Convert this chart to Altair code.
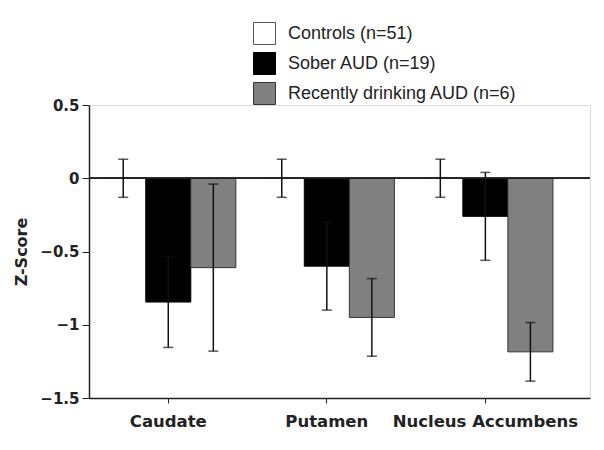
import altair as alt
import pandas as pd

regions = ["Caudate", "Putamen", "Nucleus Accumbens"]
groups = ["Controls (n=51)", "Sober AUD (n=19)", "Recently drinking AUD (n=6)"]
means = {
    "Controls (n=51)": [0.0, 0.0, 0.0],
    "Sober AUD (n=19)": [-0.845, -0.60, -0.26],
    "Recently drinking AUD (n=6)": [-0.61, -0.95, -1.185],
}
errors = {
    "Controls (n=51)": [0.13, 0.13, 0.13],
    "Sober AUD (n=19)": [0.31, 0.30, 0.30],
    "Recently drinking AUD (n=6)": [0.57, 0.265, 0.20],
}
fills = ["#ffffff", "#000000", "#808080"]
strokes = ["#555555", "#000000", "#333333"]

rows = []
for g in groups:
    for i, r in enumerate(regions):
        m = means[g][i]
        e = errors[g][i]
        rows.append({"region": r, "group": g, "mean": m, "lo": m - e, "hi": m + e})
df = pd.DataFrame(rows)

FONT_B = "DejaVu Sans"

x_enc = alt.X("region:N", sort=regions, title=None,
              scale=alt.Scale(paddingInner=0, paddingOuter=0.08, align=0),
              axis=alt.Axis(labelAngle=0, labelFont=FONT_B, labelFontWeight="bold",
                            labelFontSize=16.5, labelColor="#222", tickSize=5,
                            labelPadding=10, labelLimit=400, domainColor="#222",
                            domainWidth=1.5, tickColor="#222", tickWidth=1))
xo_enc = alt.XOffset("group:N", sort=groups,
                     scale=alt.Scale(paddingInner=0, paddingOuter=0.26))
y_scale = alt.Scale(domain=[-1.5, 0.5], nice=False, zero=False)

bars = alt.Chart(df).mark_bar(strokeWidth=1).encode(
    x=x_enc,
    xOffset=xo_enc,
    y=alt.Y("mean:Q", scale=y_scale, title="Z-Score",
            axis=alt.Axis(values=[-1.5, -1, -0.5, 0, 0.5], format="~g", grid=False,
                          labelFont=FONT_B, labelFontWeight="bold", labelFontSize=15,
                          labelColor="#222", tickSize=7, labelPadding=3,
                          titleFont=FONT_B, titleFontWeight="bold", titleFontSize=16,
                          titleColor="#222", titlePadding=10,
                          domainColor="#222", domainWidth=1.5, tickColor="#222")),
    y2=alt.datum(0),
    fill=alt.Fill("group:N", sort=groups,
                  scale=alt.Scale(domain=groups, range=fills),
                  legend=alt.Legend(title=None, orient="none", legendX=164, legendY=-83,
                                    symbolType="square", symbolSize=484,
                                    symbolStrokeWidth=1, labelFont="Liberation Sans",
                                    labelFontSize=18, labelColor="#222", labelLimit=400,
                                    labelOffset=12, rowPadding=3, padding=0,
                                    symbolOpacity=1)),
    stroke=alt.Stroke("group:N", sort=groups,
                      scale=alt.Scale(domain=groups, range=strokes), legend=None),
)

zero = alt.Chart(df).mark_rule(color="#222", strokeWidth=1.2).encode(y=alt.datum(0))

err = alt.Chart(df).mark_rule(color="#111", strokeWidth=1.5).encode(
    x=alt.X("region:N", sort=regions),
    xOffset=alt.XOffset("group:N", sort=groups),
    y=alt.Y("lo:Q"),
    y2="hi:Q",
)
cap_lo = alt.Chart(df).mark_tick(color="#111", thickness=1.5, size=10, orient="horizontal").encode(
    x=alt.X("region:N", sort=regions),
    xOffset=alt.XOffset("group:N", sort=groups),
    y=alt.Y("lo:Q"),
)
cap_hi = alt.Chart(df).mark_tick(color="#111", thickness=1.5, size=10, orient="horizontal").encode(
    x=alt.X("region:N", sort=regions),
    xOffset=alt.XOffset("group:N", sort=groups),
    y=alt.Y("hi:Q"),
)

chart = alt.layer(bars, zero, err, cap_lo, cap_hi).properties(
    width=501, height=293,
    autosize=alt.AutoSizeParams(type="none"),
    padding={"left": 81, "top": 97, "right": 6, "bottom": 40},
).configure_view(stroke=None).configure(background="#ffffff")

chart.save("out.html", embed_options={"renderer": "svg", "actions": False})
